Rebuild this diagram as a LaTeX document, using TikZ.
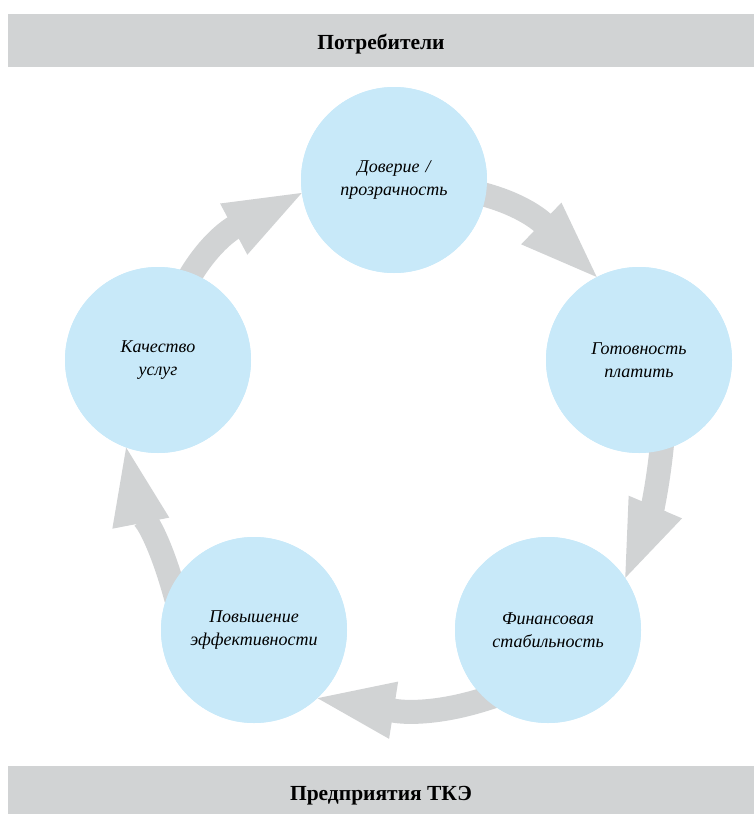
\documentclass[tikz,border=0pt]{standalone}
\usepackage{fontspec}
\setmainfont{Liberation Serif}
\usetikzlibrary{arrows.meta,positioning}
\definecolor{circBlue}{RGB}{200,233,249}
\definecolor{barGray}{RGB}{209,211,212}
\tikzstyle{circNode} = [circle, minimum size=186pt, inner sep=0pt, fill=circBlue, text width=150pt, align=center, font=\fontsize{18}{23.5}\selectfont\itshape]
\tikzstyle{barNode} = [rectangle, minimum width=746pt, inner sep=0pt, fill=barGray, font=\fontsize{21.5}{24}\selectfont\bfseries]
\tikzstyle{arrowG} = [line width=24pt, draw=barGray, shorten <=-15pt, -{Triangle[width=58pt,length=77pt,line width=0pt]}]

\begin{document}
\begin{tikzpicture}[x=1pt, y=1pt]
        \useasboundingbox (0,0) rectangle (754,-814);
        \node (cons) [barNode, minimum height=53pt, text height=19pt, text depth=2pt] at (381,-40.5) {Потребители};
        \node (util) [barNode, minimum height=48pt, text height=22pt, text depth=2pt] at (381,-790) {Предприятия ТКЭ};

        % circles come after the arrows so they sit on top
        \path (394,-180) coordinate (cTrust) (639,-360) coordinate (cPay)
              (548,-630) coordinate (cFin) (254,-630) coordinate (cEff)
              (158,-360) coordinate (cQual);
        \node (trust) [circNode] at (cTrust) {};
        \node (pay) [circNode] at (cPay) {};
        \node (fin) [circNode] at (cFin) {};
        \node (eff) [circNode] at (cEff) {};
        \node (qual) [circNode] at (cQual) {};

        \draw [arrowG] (qual.69) to[out=62, in=208] (trust.188);
        \draw [arrowG] (trust.-9) to[out=-12, in=136] (pay.117);
        \draw [arrowG] (pay.-76) to[out=-95, in=67] (fin.34);
        \draw [arrowG] (fin.228) to[out=200, in=-9] (eff.-47);
        \draw [arrowG] (eff.151) to[out=105, in=-79] (qual.250);

        \node [circNode] at (cTrust) {Доверие /\\прозрачность};
        \node [circNode] at (cPay) {Готовность\\платить};
        \node [circNode] at (cFin) {Финансовая\\стабильность};
        \node [circNode] at (cEff) {Повышение\\эффективности};
        \node [circNode] at (cQual) {Качество\\услуг};
\end{tikzpicture}
\end{document}
